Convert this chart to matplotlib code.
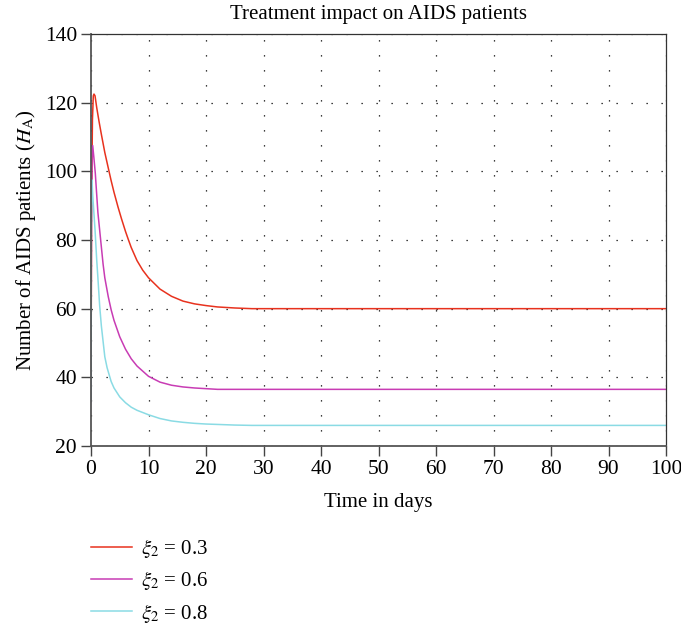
import matplotlib
matplotlib.use("Agg")
import matplotlib.pyplot as plt
from matplotlib.lines import Line2D

# ---- data ----
t_red = [0, 0.1, 0.25, 0.4, 0.52, 0.7, 1, 1.4, 1.8, 2.4, 3, 3.5, 4, 4.7, 5.3, 6, 6.5, 7, 8, 9,
         10, 12, 14, 16, 18, 20, 22, 25, 28, 100]
h_red = [33, 90, 115, 122, 122.5, 122, 118.5, 114.5, 110.8, 105.5, 101, 97.3, 93.9, 89.6,
         86.2, 82.5, 80.1, 77.8, 74, 71.2, 69, 65.7, 63.6, 62.2, 61.4, 60.9, 60.5, 60.2, 60, 60]

t_mag = [0, 0.08, 0.18, 0.3, 0.5, 0.75, 1, 1.2, 1.5, 1.8, 2.1, 2.4, 3, 3.5, 4, 5, 6, 7, 8,
         10, 12, 14, 16, 18, 20, 22, 100]
h_mag = [33, 85, 104, 107.5, 104, 99.4, 93, 88, 83, 78, 73, 69, 63.5, 59.7, 56.6, 51.8, 48.2,
         45.4, 43.3, 40.3, 38.6, 37.7, 37.2, 36.9, 36.7, 36.5, 36.5]

t_cyan = [0, 0.05, 0.12, 0.17, 0.3, 0.5, 0.7, 1, 1.2, 1.5, 1.8, 2.1, 2.4, 2.8, 3.5, 4, 5, 6,
          7, 8, 10, 12, 14, 16, 18, 20, 25, 28, 100]
h_cyan = [33, 80, 95, 97.5, 93, 88, 83, 74, 69, 61, 55, 50.5, 46, 42.8, 38.8, 36.9, 34.3,
          32.6, 31.3, 30.4, 29.1, 28, 27.3, 26.9, 26.6, 26.4, 26.1, 26, 26]

labels = [r"$\xi_2$ = 0.3", r"$\xi_2$ = 0.6", r"$\xi_2$ = 0.8"]
colors = ["#e8321e", "#c83cb4", "#8adbe4"]

xticks = list(range(0, 101, 10))
yticks = list(range(20, 141, 20))

plt.rcParams["font.family"] = ["Liberation Serif", "DejaVu Serif"]
plt.rcParams["mathtext.fontset"] = "stix"

fig = plt.figure(figsize=(6.81, 6.31), dpi=100)
ax = fig.add_axes([91/681, 1 - 446/631, (666-91)/681, (446-34)/631])

series = [(t_red, h_red), (t_mag, h_mag), (t_cyan, h_cyan)]
for (t, h), c, lab in zip(series, colors, labels):
    ax.plot(t, h, color=c, lw=1.1, label=lab)

ax.set_xlim(0, 100)
ax.set_ylim(20, 140)
ax.set_xticks(xticks)
ax.set_yticks(yticks)
ax.grid(True, color="black", linestyle=(0, (1, 11)), linewidth=0.9)
ax.tick_params(direction="out", length=7, width=1.0, labelsize=15.5, color="#444444",
               top=False, right=False, pad=3)
for s in ["left", "bottom"]:
    ax.spines[s].set_color("#555555")
    ax.spines[s].set_linewidth(1.3)
for s in ["top", "right"]:
    ax.spines[s].set_color("#333333")
    ax.spines[s].set_linewidth(0.9)

ax.set_title("Treatment impact on AIDS patients", fontsize=15, pad=11)
ax.set_xlabel("Time in days", fontsize=15, labelpad=10)
ax.set_ylabel(r"Number of AIDS patients ($H_{\mathrm{A}}$)", fontsize=15, labelpad=5)

handles = [Line2D([], [], color=c, lw=1.1) for c in colors]
fig.legend(handles, labels, loc="upper left", bbox_to_anchor=(91/681, 1 - 537/631),
           frameon=False, fontsize=15, handlelength=1.95, handletextpad=0.45,
           labelspacing=0.45, borderpad=0, borderaxespad=0)

fig.savefig("out.png", dpi=100)
